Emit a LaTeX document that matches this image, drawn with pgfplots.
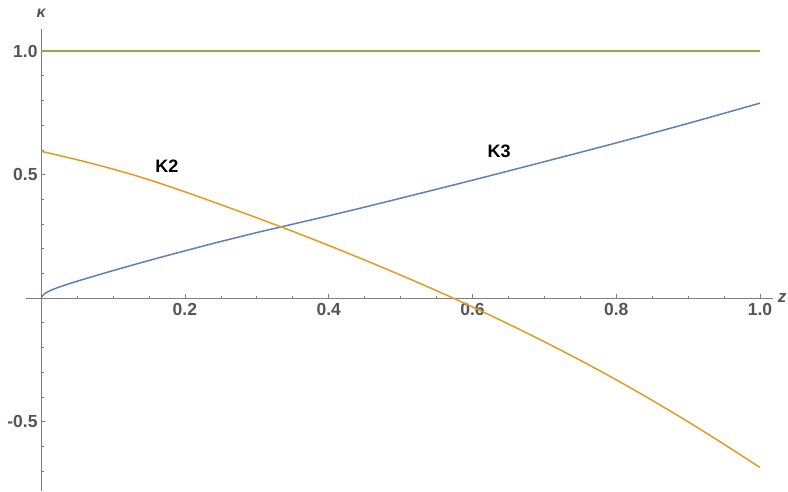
\documentclass[border=0pt]{standalone}
\usepackage{pgfplots}
\pgfplotsset{compat=1.18}
\usepackage{fontspec}
\setmainfont{Liberation Sans}
\definecolor{mblue}{HTML}{5E81B5}
\definecolor{morange}{HTML}{E19C24}
\definecolor{mgreen}{HTML}{8FB032}
\definecolor{axgray}{HTML}{7F7F7F}
\definecolor{labgray}{HTML}{555555}
\begin{document}
\begin{tikzpicture}
\begin{axis}[
  name=ax,
  scale only axis,
  width=747pt, height=462pt,
  axis lines=middle,
  axis line style={-, axgray, line width=0.8pt},
  xmin=-0.021, xmax=1.018,
  ymin=-0.781, ymax=1.089,
  clip=false,
  xtick={0.2,0.4,0.6,0.8,1},
  xticklabels={0.2,0.4,0.6,0.8,1.0},
  ytick={-0.5,0.5,1},
  yticklabels={-0.5,0.5,1.0},
  minor xtick={0.05,0.1,0.15,0.25,0.3,0.35,0.45,0.5,0.55,0.65,0.7,0.75,0.85,0.9,0.95},
  minor ytick={-0.7,-0.6,-0.4,-0.3,-0.2,-0.1,0.1,0.2,0.3,0.4,0.6,0.7,0.8,0.9},
  tick align=inside,
  major tick length=4pt,
  minor tick length=2.5pt,
  every tick/.style={axgray, line width=0.6pt},
  /pgf/number format/assume math mode=true,
  tick label style={font=\fontsize{17.5}{20}\selectfont\bfseries, text=labgray},
  xticklabel style={yshift=-2pt},
  yticklabel style={xshift=0pt},
]
\addplot[mgreen, line width=1.5pt] coordinates {(0,1) (1,1)};
\addplot[mblue, line width=1.5pt, smooth] coordinates {
(0,0) (0.005,0.018) (0.02,0.039) (0.05,0.068) (0.1,0.111) (0.15,0.152)
(0.2,0.191) (0.25,0.229) (0.3,0.265) (0.35,0.299) (0.4,0.333) (0.45,0.368)
(0.5,0.404) (0.6,0.477) (0.7,0.552) (0.8,0.628) (0.9,0.707) (1.0,0.789)};
\addplot[morange, line width=1.5pt, smooth] coordinates {
(0,0.594) (0.05,0.560) (0.1,0.522) (0.15,0.479) (0.2,0.430) (0.25,0.378)
(0.3,0.325) (0.35,0.270) (0.4,0.213) (0.45,0.154) (0.5,0.093) (0.55,0.030)
(0.6,-0.036) (0.65,-0.105) (0.7,-0.177) (0.75,-0.252) (0.8,-0.331)
(0.85,-0.414) (0.9,-0.501) (0.95,-0.592) (1.0,-0.686)};
\node[font=\fontsize{18}{20}\selectfont\bfseries] at (axis cs:0.175,0.534) {K2};
\node[font=\fontsize{18}{20}\selectfont\bfseries] at (axis cs:0.637,0.595) {K3};
\node[font=\fontsize{16}{18}\selectfont\itshape\bfseries, text=labgray] at (axis cs:0,1.154) {κ};
\node[font=\fontsize{17}{18}\selectfont\itshape\bfseries, text=labgray, anchor=west] at (axis cs:1.02,0.0) {z};
\end{axis}
\pgfresetboundingbox
\path[use as bounding box] ([xshift=-26pt]ax.south west) rectangle ([xshift=15pt,yshift=29pt]ax.north east);
\end{tikzpicture}
\end{document}
